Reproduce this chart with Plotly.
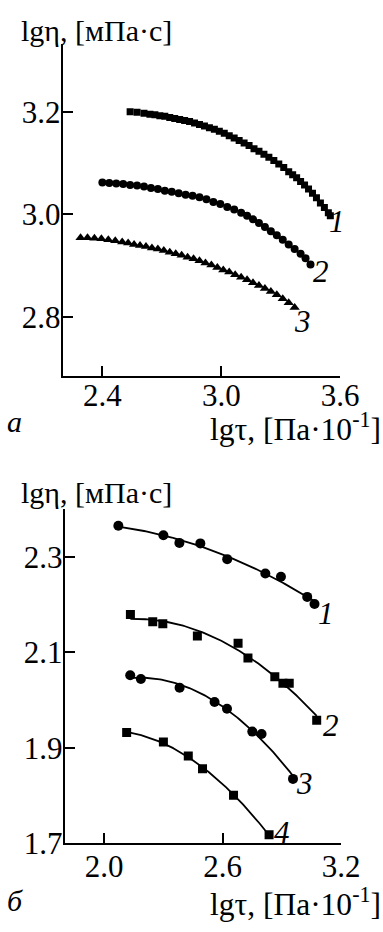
import numpy as np
import plotly.graph_objects as go

# ---------- panel a (dense measurements) ----------
a1_x = [2.54, 2.575, 2.61, 2.64, 2.665, 2.69, 2.715, 2.74, 2.765, 2.79, 2.815, 2.84, 2.865, 2.89,
        2.915, 2.94, 2.965, 2.99, 3.015, 3.04, 3.065, 3.09, 3.115, 3.14, 3.165, 3.19, 3.215, 3.24,
        3.265, 3.29, 3.315, 3.34, 3.36, 3.38, 3.40, 3.42, 3.44, 3.46, 3.48, 3.50, 3.52, 3.54, 3.55]
a1_y = [3.200, 3.199, 3.197, 3.195, 3.194, 3.192, 3.191, 3.189, 3.187, 3.185, 3.183, 3.181, 3.178, 3.175,
        3.172, 3.169, 3.166, 3.162, 3.158, 3.153, 3.149, 3.144, 3.139, 3.134, 3.128, 3.123, 3.117, 3.111,
        3.105, 3.098, 3.091, 3.083, 3.077, 3.071, 3.064, 3.057, 3.049, 3.041, 3.032, 3.022, 3.013, 3.003, 2.997]

a2_x = [2.40, 2.435, 2.47, 2.505, 2.54, 2.575, 2.61, 2.645, 2.68, 2.715, 2.75, 2.785, 2.82, 2.855,
        2.89, 2.925, 2.96, 2.995, 3.03, 3.065, 3.10, 3.13, 3.16, 3.19, 3.22, 3.25, 3.28, 3.31,
        3.34, 3.37, 3.40, 3.425, 3.45]
a2_y = [3.062, 3.061, 3.060, 3.059, 3.057, 3.056, 3.054, 3.051, 3.049, 3.046, 3.044, 3.041, 3.038, 3.036,
        3.033, 3.029, 3.024, 3.020, 3.014, 3.009, 3.003, 2.997, 2.990, 2.983, 2.975, 2.967, 2.959, 2.950,
        2.941, 2.932, 2.923, 2.914, 2.902]

a3_x = [2.29, 2.325, 2.36, 2.395, 2.43, 2.465, 2.50, 2.53, 2.56, 2.59, 2.62, 2.65, 2.68, 2.71,
        2.74, 2.77, 2.80, 2.83, 2.86, 2.89, 2.92, 2.95, 2.98, 3.01, 3.04, 3.07, 3.10, 3.13,
        3.16, 3.19, 3.22, 3.25, 3.28, 3.31, 3.34, 3.37]
a3_y = [2.954, 2.954, 2.953, 2.952, 2.950, 2.948, 2.946, 2.944, 2.941, 2.939, 2.937, 2.934, 2.932, 2.929,
        2.926, 2.923, 2.920, 2.916, 2.913, 2.909, 2.905, 2.901, 2.896, 2.891, 2.887, 2.882, 2.877, 2.872,
        2.866, 2.861, 2.855, 2.849, 2.843, 2.835, 2.827, 2.818]

# ---------- panel б (sparse measurements) ----------
b1_x = [2.072, 2.30, 2.381, 2.487, 2.623, 2.816, 2.895, 3.028, 3.065]
b1_y = [2.365, 2.345, 2.329, 2.328, 2.295, 2.265, 2.258, 2.216, 2.201]

b2_x = [2.133, 2.246, 2.297, 2.472, 2.678, 2.728, 2.864, 2.905, 2.937, 3.076]
b2_y = [2.179, 2.164, 2.160, 2.134, 2.119, 2.088, 2.049, 2.035, 2.035, 1.958]

b3_x = [2.132, 2.186, 2.382, 2.559, 2.622, 2.750, 2.797, 2.956]
b3_y = [2.052, 2.044, 2.026, 1.996, 1.982, 1.934, 1.929, 1.835]

b4_x = [2.114, 2.30, 2.426, 2.498, 2.655, 2.835]
b4_y = [1.932, 1.912, 1.883, 1.856, 1.801, 1.718]

a_ticks_x = [2.4, 3.0, 3.6]
a_ticks_y = [2.8, 3.0, 3.2]
b_ticks_x = [2.0, 2.6, 3.2]
b_ticks_y = [1.7, 1.9, 2.1, 2.3]

a_labels = ["1", "2", "3"]
a_label_pos = [(3.586, 2.985), (3.504, 2.889), (3.408, 2.791)]
b_labels = ["1", "2", "3", "4"]
b_label_pos = [(3.123, 2.182), (3.147, 1.946), (3.012, 1.825), (2.901, 1.723)]

y_title = "lgη, [мПа·с]"
x_title = "lgτ, [Па·10<sup>-1</sup>]"

FONT = "Liberation Serif"
FS_TICK = 31
FS_TITLE = 30
FS_XT = 31.5
W, H = 383, 932

fig = go.Figure()

def px(x):
    return x / W

def py(y):
    return 1 - y / H

# panel a markers
fig.add_trace(go.Scatter(x=a1_x, y=a1_y, mode="markers", xaxis="x", yaxis="y",
                         marker=dict(symbol="square", size=7, color="black")))
fig.add_trace(go.Scatter(x=a2_x, y=a2_y, mode="markers", xaxis="x", yaxis="y",
                         marker=dict(symbol="circle", size=8, color="black")))
fig.add_trace(go.Scatter(x=a3_x, y=a3_y, mode="markers", xaxis="x", yaxis="y",
                         marker=dict(symbol="triangle-up", size=9, color="black")))

# panel б: fitted smooth curves + markers
for xs, ys, sym in [(b1_x, b1_y, "circle"), (b2_x, b2_y, "square"),
                    (b3_x, b3_y, "circle"), (b4_x, b4_y, "square")]:
    coef = np.polyfit(xs, ys, 2)
    xf = np.linspace(min(xs), max(xs), 100)
    fig.add_trace(go.Scatter(x=xf, y=np.polyval(coef, xf), mode="lines", xaxis="x2", yaxis="y2",
                             line=dict(color="black", width=1.8)))
    fig.add_trace(go.Scatter(x=xs, y=ys, mode="markers", xaxis="x2", yaxis="y2",
                             marker=dict(symbol=sym, size=10 if sym == "circle" else 9, color="black")))

axis_common = dict(showgrid=False, zeroline=False, showline=True, linecolor="black", linewidth=2,
                   ticks="inside", ticklen=10, tickwidth=2, tickcolor="black",
                   tickfont=dict(family=FONT, size=FS_TICK, color="black"))

fig.update_layout(
    width=W, height=H, margin=dict(l=0, r=0, t=0, b=0),
    paper_bgcolor="white", plot_bgcolor="white", showlegend=False,
    font=dict(family=FONT, size=FS_TICK, color="black"),
    xaxis=dict(domain=[px(66), px(358)], range=[2.2, 3.6], tickvals=a_ticks_x, ticklabelstandoff=-9,
               ticktext=[f"{v:.1f}" for v in a_ticks_x], anchor="y", **axis_common),
    yaxis=dict(domain=[py(383), py(45)], range=[2.685, 3.332], tickvals=a_ticks_y, ticklabelstandoff=-6,
               ticktext=[f"{v:.1f}" for v in a_ticks_y], anchor="x", **axis_common),
    xaxis2=dict(domain=[px(68), px(359)], range=[1.8, 3.2], tickvals=b_ticks_x, ticklabelstandoff=-6,
                ticktext=[f"{v:.1f}" for v in b_ticks_x], anchor="y2", **axis_common),
    yaxis2=dict(domain=[py(860), py(519)], range=[1.7, 2.4], tickvals=b_ticks_y, ticklabelstandoff=-6,
                ticktext=[f"{v:.1f}" for v in b_ticks_y], anchor="x2", **axis_common),
)

num_font = dict(family=FONT, size=FS_TICK, color="black")
ann = []
for t, (x, y) in zip(a_labels, a_label_pos):
    ann.append(dict(x=x, y=y, xref="x", yref="y", text=f"<i>{t}</i>", showarrow=False, font=num_font))
for t, (x, y) in zip(b_labels, b_label_pos):
    ann.append(dict(x=x, y=y, xref="x2", yref="y2", text=f"<i>{t}</i>", showarrow=False, font=num_font))

yt_font = dict(family=FONT, size=FS_TITLE, color="black")
xt_font = dict(family=FONT, size=FS_XT, color="black")
ann += [
    dict(x=px(20), y=py(31), xref="paper", yref="paper", text=y_title, showarrow=False,
         xanchor="left", yanchor="middle", font=yt_font),
    dict(x=px(219), y=py(435), xref="paper", yref="paper", text=x_title, showarrow=False,
         xanchor="left", yanchor="middle", font=xt_font),
    dict(x=px(5), y=py(430), xref="paper", yref="paper", text="<i>а</i>", showarrow=False,
         xanchor="left", yanchor="middle", font=yt_font),
    dict(x=px(20), y=py(502), xref="paper", yref="paper", text=y_title, showarrow=False,
         xanchor="left", yanchor="middle", font=yt_font),
    dict(x=px(219), y=py(920), xref="paper", yref="paper", text=x_title, showarrow=False,
         xanchor="left", yanchor="middle", font=xt_font),
    dict(x=px(5), y=py(918), xref="paper", yref="paper", text="<i>б</i>", showarrow=False,
         xanchor="left", yanchor="middle", font=yt_font),
]
fig.update_layout(annotations=ann)

fig.write_html("out.html")
